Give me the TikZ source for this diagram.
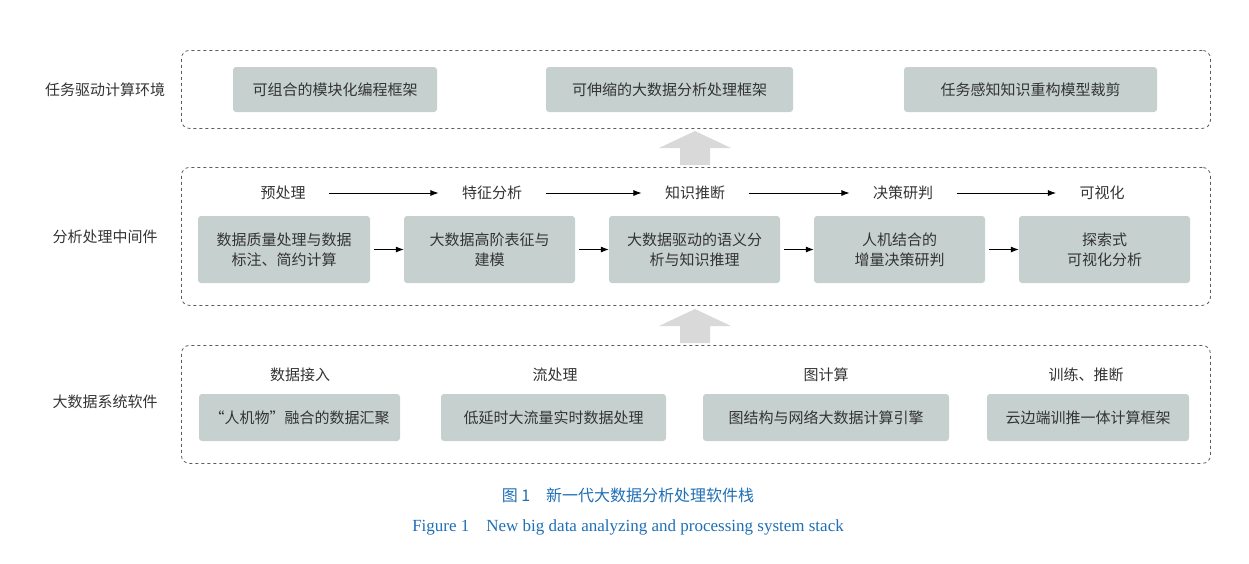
\documentclass[tikz,border=0pt]{standalone}
\usepackage{fontspec}
\setmainfont{Liberation Serif}
\newfontfamily\cjk{Noto Sans CJK SC}
\usetikzlibrary{arrows.meta,calc}
\definecolor{boxfill}{HTML}{C6D1CF}
\definecolor{capblue}{HTML}{1F6FB5}
\definecolor{txt}{HTML}{333333}
\begin{document}
\begin{tikzpicture}[x=1pt,y=-1pt,
  layer/.style={draw=txt!80,dashed,rounded corners=8pt,line width=0.8pt},
  box/.style={fill=boxfill,rounded corners=3pt,font=\cjk\fontsize{15}{20}\selectfont,text=txt,align=center,inner sep=0pt},
  lab/.style={font=\cjk\fontsize{15}{19}\selectfont,text=txt},
  fl/.style={-{Latex[length=8pt,width=6pt]},line width=0.8pt,draw=black},
  big/.style={fill=black!15,draw=none}]
\useasboundingbox (0,0) rectangle (1249,563);
% layers
\node[layer,minimum width=1029pt,minimum height=78pt,anchor=north west] (L1) at (181,50) {};
\node[layer,minimum width=1029pt,minimum height=138pt,anchor=north west] (L2) at (181,167) {};
\node[layer,minimum width=1029pt,minimum height=118pt,anchor=north west] (L3) at (181,345) {};
\node[lab] (n1) at (105,90) {任务驱动计算环境};
\node[lab] (n2) at (105,237) {分析处理中间件};
\node[lab] (n3) at (105,402) {大数据系统软件};
% top
\node[box,minimum width=204pt,minimum height=45pt] (t1) at (335,89.5) {可组合的模块化编程框架};
\node[box,minimum width=247pt,minimum height=45pt] (t2) at (669.5,89.5) {可伸缩的大数据分析处理框架};
\node[box,minimum width=253pt,minimum height=45pt] (t3) at (1030.5,89.5) {任务感知知识重构模型裁剪};
% big arrows
\fill[big] (680,165) -- (680,148) -- (659,148) -- (695,131) -- (731,148) -- (710,148) -- (710,165) -- cycle;
\fill[big] (680,343) -- (680,326) -- (659,326) -- (695,309) -- (731,326) -- (710,326) -- (710,343) -- cycle;
% middle headings
\node[lab] (h1) at (283,193) {预处理};
\node[lab] (h2) at (492,193) {特征分析};
\node[lab] (h3) at (695,193) {知识推断};
\node[lab] (h4) at (903,193) {决策研判};
\node[lab] (h5) at (1102,193) {可视化};
\draw[fl] ($(h1.east)+(20,0)$) -- ($(h2.west)+(-20,0)$);
\draw[fl] ($(h2.east)+(20,0)$) -- ($(h3.west)+(-20,0)$);
\draw[fl] ($(h3.east)+(20,0)$) -- ($(h4.west)+(-20,0)$);
\draw[fl] ($(h4.east)+(20,0)$) -- ($(h5.west)+(-20,0)$);
% middle boxes
\node[box,minimum width=172pt,minimum height=67pt] (m1) at (284,249.5) {数据质量处理与数据\\标注、简约计算};
\node[box,minimum width=171pt,minimum height=67pt] (m2) at (489.5,249.5) {大数据高阶表征与\\建模};
\node[box,minimum width=171pt,minimum height=67pt] (m3) at (694.5,249.5) {大数据驱动的语义分\\析与知识推理};
\node[box,minimum width=171pt,minimum height=67pt] (m4) at (899.5,249.5) {人机结合的\\增量决策研判};
\node[box,minimum width=171pt,minimum height=67pt] (m5) at (1104.5,249.5) {探索式\\可视化分析};
\draw[fl] ($(m1.east)+(4,0)$) -- (m2.west);
\draw[fl] ($(m2.east)+(4,0)$) -- (m3.west);
\draw[fl] ($(m3.east)+(4,0)$) -- (m4.west);
\draw[fl] ($(m4.east)+(4,0)$) -- (m5.west);
% bottom
\node[lab] (b1) at (300,375) {数据接入};
\node[lab] (b2) at (555,375) {流处理};
\node[lab] (b3) at (826,375) {图计算};
\node[lab] (b4) at (1086,375) {训练、推断};
\node[box,minimum width=201pt,minimum height=47pt] (c1) at (299.5,417.5) {“人机物”融合的数据汇聚};
\node[box,minimum width=225pt,minimum height=47pt] (c2) at (553.5,417.5) {低延时大流量实时数据处理};
\node[box,minimum width=246pt,minimum height=47pt] (c3) at (826,417.5) {图结构与网络大数据计算引擎};
\node[box,minimum width=202pt,minimum height=47pt] (c4) at (1088,417.5) {云边端训推一体计算框架};
% captions
\node[text=capblue,font=\cjk\fontsize{16}{20}\selectfont] (cap1) at (628,495) {图 1\quad 新一代大数据分析处理软件栈};
\node[text=capblue,font=\fontsize{17}{20}\selectfont] (cap2) at (628,527) {Figure 1\quad New big data analyzing and processing system stack};
\end{tikzpicture}
\end{document}
